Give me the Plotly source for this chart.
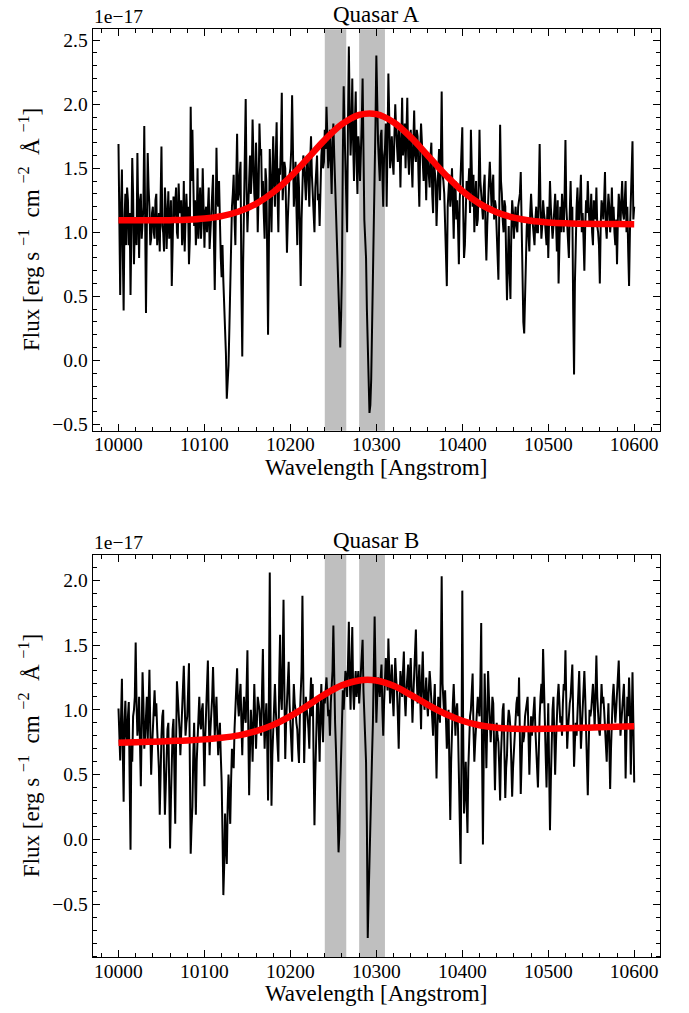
import plotly.graph_objects as go

# ---------------- data ----------------
# Spectra are sampled every 1 Angstrom; values are stored as two lists
# (even and odd wavelengths) to keep the rows readable.
wave = list(range(10000, 10601))             # spectral grid [Angstrom]
fit_wave = list(range(10000, 10601, 20))     # grid of the fitted model

flux_A_even = [   # 10000, 10002, ..., 10600
    1.69, 0.51, 1.49, 0.39, 1.30, 1.35, 0.90, 0.51, 1.58, 0.75,
    1.10, 1.62, 0.80, 1.30, 1.05, 1.83, 0.37, 1.62, 1.20, 0.95,
    1.20, 0.95, 1.30, 1.05, 0.85, 1.67, 1.00, 1.35, 0.87, 1.32,
    1.05, 0.58, 1.28, 1.30, 1.00, 1.38, 1.20, 0.90, 1.40, 1.10,
    1.10, 0.75, 1.98, 1.80, 1.05, 0.90, 1.50, 1.30, 0.95, 1.50,
    0.88, 1.20, 1.30, 0.87, 1.15, 1.45, 0.55, 1.66, 1.20, 0.95,
    0.65, 0.62, 0.30, -0.30, -0.04, 0.62, 1.20, 1.45, 0.90, 1.77,
    1.30, 1.55, 0.03, 1.20, 2.04, 1.00, 1.50, 1.30, 1.88, 1.30,
    1.70, 1.00, 1.85, 1.65, 1.40, 0.95, 1.40, 0.20, 1.65, 1.00,
    1.75, 1.20, 1.86, 1.00, 1.45, 2.09, 1.40, 1.50, 0.84, 1.30,
    1.50, 2.07, 1.20, 1.55, 0.90, 1.35, 0.58, 1.40, 1.55, 1.25,
    1.60, 1.20, 1.75, 1.30, 1.00, 1.45, 1.25, 1.05, 1.60, 1.50,
    1.80, 1.98, 1.50, 1.80, 1.30, 1.85, 1.40, 0.90, 0.55, 0.10,
    0.70, 2.14, 1.50, 1.00, 2.45, 1.60, 2.20, 1.40, 2.10, 1.30,
    1.65, 1.60, 2.20, 1.10, 0.80, 0.05, -0.41, -0.15, 0.60, 1.50,
    2.38, 1.70, 1.40, 1.80, 1.20, 1.65, 1.20, 2.24, 1.50, 1.75,
    1.45, 2.00, 1.60, 1.85, 1.35, 2.05, 1.70, 1.50, 2.05, 1.45,
    1.80, 1.35, 1.95, 1.55, 1.75, 1.20, 1.85, 1.50, 1.65, 1.25,
    1.55, 1.35, 1.70, 1.15, 1.45, 1.05, 1.50, 1.25, 2.10, 1.40,
    1.10, 0.58, 1.35, 1.20, 1.50, 0.95, 1.40, 1.25, 0.75, 1.45,
    1.82, 0.80, 1.25, 1.30, 1.50, 1.80, 1.20, 1.00, 1.40, 1.10,
    1.80, 1.30, 1.10, 1.45, 0.78, 1.30, 1.55, 1.20, 1.45, 1.25,
    1.00, 0.63, 1.84, 1.30, 1.00, 1.20, 0.47, 1.05, 0.48, 1.25,
    0.95, 1.20, 1.00, 1.25, 1.47, 0.50, 0.21, 0.90, 1.10, 0.85,
    1.30, 1.05, 0.90, 1.20, 1.00, 1.69, 0.95, 1.25, 1.10, 0.90,
    0.80, 1.40, 1.00, 1.05, 1.30, 0.85, 0.60, 1.20, 1.30, 1.00,
    1.72, 1.05, 0.80, 1.40, 1.20, -0.11, 1.00, 1.35, 1.10, 1.45,
    1.15, 0.70, 1.25, 1.40, 1.05, 1.30, 0.90, 1.20, 1.35, 1.00,
    0.60, 1.25, 1.10, 1.47, 0.95, 1.30, 1.00, 1.35, 1.20, 0.90,
    0.75, 1.30, 1.05, 1.40, 1.10, 1.40, 1.20, 0.58, 1.25, 1.71,
    1.20,
]
flux_A_odd = [    # 10001, 10003, ..., 10599
    0.95, 1.20, 0.85, 1.10, 0.90, 1.25, 1.15, 1.00, 1.30, 1.05,
    0.90, 1.15, 1.25, 0.95, 1.20, 0.85, 1.05, 1.35, 0.90, 1.15,
    1.00, 1.25, 0.90, 1.15, 1.30, 1.05, 0.85, 1.20, 1.10, 0.95,
    1.25, 0.90, 1.10, 1.35, 0.95, 1.15, 1.25, 1.00, 0.85, 1.30,
    1.20, 0.95, 1.40, 1.15, 1.25, 1.05, 0.95, 1.35, 1.10, 1.20,
    1.15, 1.00, 1.35, 1.10, 1.30, 0.95, 1.05, 1.25, 1.40, 0.80,
    0.90, 0.45, 0.05, -0.20, 0.25, 1.00, 1.30, 1.10, 1.40, 1.25,
    1.45, 0.60, 0.75, 1.55, 1.35, 1.20, 1.60, 1.45, 1.55, 1.20,
    1.45, 1.30, 1.60, 1.25, 1.15, 1.50, 0.85, 0.90, 1.35, 1.45,
    1.40, 1.60, 1.30, 1.50, 1.70, 1.25, 1.55, 1.20, 1.10, 1.45,
    1.65, 1.40, 1.35, 1.20, 1.50, 1.00, 1.10, 1.60, 1.35, 1.50,
    1.40, 1.55, 1.45, 1.20, 1.35, 1.60, 1.30, 1.45, 1.70, 1.55,
    1.65, 1.75, 1.60, 1.55, 1.70, 1.60, 1.20, 0.75, 0.30, 0.35,
    1.60, 1.80, 1.35, 1.85, 1.95, 1.80, 1.70, 1.85, 1.55, 1.75,
    1.40, 1.85, 1.60, 0.95, 0.40, -0.25, -0.35, 0.25, 1.10, 1.85,
    1.90, 1.55, 1.75, 1.45, 1.60, 1.85, 1.70, 1.90, 1.60, 1.55,
    1.75, 1.80, 1.55, 1.70, 1.90, 1.60, 1.85, 1.75, 1.60, 1.70,
    1.55, 1.70, 1.60, 1.80, 1.45, 1.65, 1.70, 1.40, 1.55, 1.60,
    1.45, 1.60, 1.30, 1.55, 1.40, 1.35, 1.65, 1.55, 1.45, 1.30,
    0.90, 1.20, 1.45, 1.30, 1.15, 1.35, 1.10, 1.05, 1.25, 1.50,
    1.20, 0.90, 1.40, 1.35, 1.15, 1.30, 1.45, 1.25, 1.05, 1.35,
    1.40, 1.20, 1.35, 1.00, 1.05, 1.40, 1.30, 1.35, 1.10, 1.20,
    0.85, 1.15, 1.40, 1.10, 1.25, 0.80, 0.75, 0.70, 1.00, 1.15,
    1.10, 1.05, 1.20, 1.30, 1.00, 0.30, 0.60, 1.05, 0.95, 1.15,
    1.15, 0.95, 1.10, 1.00, 1.30, 1.20, 1.05, 1.15, 1.00, 1.20,
    1.10, 1.20, 0.95, 1.15, 1.10, 1.25, 0.90, 1.00, 1.15, 1.30,
    1.20, 1.00, 1.15, 1.05, 0.40, 0.60, 1.20, 1.10, 1.25, 1.00,
    0.95, 1.05, 1.15, 1.20, 1.10, 1.00, 1.25, 1.10, 1.05, 0.90,
    1.05, 1.20, 1.25, 1.05, 1.15, 1.20, 1.10, 1.05, 1.00, 1.10,
    1.10, 1.20, 1.25, 1.15, 1.25, 1.00, 0.85, 1.00, 1.45, 1.10,
]

flux_B_even = [   # 10000, 10002, ..., 10600
    1.01, 0.61, 1.24, 0.29, 1.07, 0.75, 1.06, -0.08, 0.60, 1.00,
    1.52, 0.80, 1.10, 0.41, 1.29, 0.70, 1.00, 0.75, 1.31, 0.50,
    0.90, 1.15, 1.05, 0.70, 0.19, 0.80, 1.00, 0.19, 0.70, 0.90,
    -0.07, 0.60, 0.93, 0.12, 1.22, 1.00, 0.65, 0.95, 1.34, 0.80,
    0.95, 1.36, -0.11, 0.25, 0.90, 0.19, 0.80, 1.10, 0.85, 1.05,
    0.41, 1.05, 1.38, 0.65, 0.95, 1.33, 0.80, 1.10, 0.65, 0.90,
    0.45, -0.43, 0.20, -0.19, 0.50, 0.12, 0.70, 0.55, 1.00, 1.32,
    0.95, 1.20, 0.65, 1.10, 0.90, 1.46, 0.34, 1.00, 0.60, 1.20,
    0.70, 1.10, 1.00, 0.80, 1.47, 0.70, 1.05, 0.30, 2.06, 0.26,
    0.90, 1.20, 0.85, 0.60, 1.58, 1.00, 1.85, 0.62, 1.10, 1.37,
    0.90, 0.60, 1.20, 1.00, 0.85, 0.59, 1.10, 1.88, 0.59, 1.10,
    0.95, 0.70, 1.25, 1.20, 0.11, 0.90, 1.10, 0.60, 1.20, 0.75,
    1.05, 1.25, 0.95, 0.80, 1.15, 1.65, 0.90, 0.50, -0.10, 0.40,
    0.90, 1.00, 1.30, 1.10, 1.68, 1.00, 1.64, 1.00, 1.30, 1.20,
    1.05, 1.35, 1.54, 0.90, 0.60, -0.76, -0.10, 0.40, 0.90, 1.72,
    0.90, 1.25, 1.10, 1.35, 0.80, 1.20, 1.30, 1.55, 1.05, 1.35,
    0.95, 1.40, 1.15, 0.70, 1.30, 1.10, 1.45, 0.95, 1.25, 1.10,
    1.40, 0.90, 1.30, 1.62, 1.05, 1.35, 0.85, 1.45, 1.00, 1.25,
    0.95, 1.30, 1.05, 0.80, 1.20, 0.47, 1.10, 0.90, 2.03, 1.00,
    1.15, 0.70, 1.00, 0.15, 0.90, 1.20, 0.80, 1.05, 0.50, -0.19,
    1.92, 0.20, 0.60, 0.05, 0.80, 1.00, 1.28, 0.60, 0.90, 1.10,
    0.95, 1.67, -0.04, 1.28, 0.55, 1.30, 0.85, 0.90, 1.05, 0.38,
    0.90, 0.75, 0.30, 0.90, 1.05, 0.32, 0.65, 1.00, 0.85, 0.33,
    0.70, 0.90, 1.10, 1.25, 0.35, 0.85, 0.80, 1.00, 1.10, 0.50,
    0.95, 0.90, 1.10, 0.60, 0.40, 0.95, 1.20, 1.47, 0.80, 0.40,
    1.05, 0.07, 0.90, 1.10, 0.50, 1.00, 1.20, 0.90, 0.80, 1.20,
    1.46, 0.70, 1.00, 1.10, 1.35, 0.56, 0.90, 1.00, 1.30, 0.70,
    1.05, 1.30, 0.90, 0.34, 1.00, 1.00, 1.20, 0.85, 1.42, 0.95,
    0.80, 1.20, 1.10, 0.85, 0.60, 1.05, 0.39, 1.00, 1.20, 0.90,
    1.10, 1.38, 0.80, 1.00, 1.20, 0.47, 1.10, 1.25, 0.50, 1.29,
    0.44,
]
flux_B_odd = [    # 10001, 10003, ..., 10599
    0.85, 0.95, 0.70, 0.90, 0.80, 0.95, 0.45, 0.75, 0.95, 1.10,
    1.05, 0.90, 0.75, 0.85, 1.05, 0.80, 1.10, 0.95, 0.85, 0.70,
    1.00, 0.95, 0.85, 0.55, 0.60, 0.95, 0.55, 0.40, 0.85, 0.40,
    0.30, 0.85, 0.55, 0.75, 1.10, 0.85, 0.80, 1.15, 1.05, 0.90,
    1.15, 0.60, 0.10, 0.65, 0.55, 0.60, 0.95, 0.90, 1.00, 0.75,
    0.80, 1.15, 0.95, 0.85, 1.10, 1.05, 0.95, 0.85, 0.80, 0.65,
    0.05, -0.20, -0.05, 0.25, 0.30, 0.45, 0.60, 0.85, 1.15, 1.05,
    1.10, 0.90, 0.95, 0.95, 1.15, 0.85, 0.70, 0.85, 0.90, 0.95,
    0.90, 1.05, 0.85, 1.15, 1.00, 0.90, 0.75, 1.10, 0.95, 0.65,
    1.05, 1.00, 0.75, 1.25, 1.10, 1.35, 1.15, 0.90, 1.20, 1.05,
    0.80, 0.95, 1.05, 0.90, 0.70, 0.95, 1.30, 1.00, 0.85, 1.00,
    0.85, 1.05, 0.95, 0.60, 0.50, 1.05, 0.85, 1.00, 0.90, 1.10,
    1.15, 1.10, 1.00, 1.05, 1.30, 1.20, 0.70, 0.20, 0.05, 0.70,
    1.15, 1.20, 1.25, 1.35, 1.25, 1.35, 1.15, 1.20, 1.10, 1.30,
    1.20, 1.45, 1.15, 0.75, 0.10, -0.45, 0.15, 0.65, 1.25, 1.30,
    1.10, 1.20, 1.25, 1.00, 1.05, 1.40, 1.15, 1.25, 1.20, 1.10,
    1.20, 1.25, 0.95, 1.05, 1.20, 1.30, 1.10, 1.15, 1.35, 1.25,
    1.15, 1.10, 1.45, 1.25, 1.20, 1.10, 1.25, 1.15, 1.10, 1.05,
    1.15, 1.20, 0.95, 1.05, 0.80, 0.85, 1.00, 1.35, 1.20, 0.95,
    0.90, 0.85, 0.55, 0.60, 1.05, 0.95, 1.00, 0.85, 0.25, 0.60,
    0.85, 0.35, 0.30, 0.55, 0.95, 1.10, 0.85, 0.75, 1.05, 1.00,
    1.20, 0.65, 0.70, 0.95, 0.90, 1.10, 0.75, 1.10, 0.65, 0.70,
    0.80, 0.55, 0.65, 1.00, 0.70, 0.55, 0.90, 0.95, 0.60, 0.55,
    0.85, 1.05, 0.95, 0.80, 0.60, 0.75, 0.95, 1.05, 0.80, 0.75,
    0.80, 1.05, 0.85, 0.55, 0.75, 1.10, 1.05, 1.20, 0.65, 0.75,
    0.55, 0.45, 1.00, 0.85, 0.75, 1.10, 1.05, 0.95, 1.05, 1.15,
    1.05, 0.85, 1.05, 1.20, 0.95, 0.75, 0.80, 1.15, 1.00, 0.85,
    1.15, 1.10, 0.65, 0.70, 0.95, 1.10, 1.05, 1.15, 1.10, 0.85,
    0.95, 1.05, 1.00, 0.70, 0.85, 0.75, 0.70, 1.10, 1.05, 1.00,
    1.20, 1.10, 0.90, 1.15, 0.95, 0.80, 0.95, 1.05, 0.85, 0.90,
]

fit_A = [1.095, 1.094, 1.094, 1.095, 1.098, 1.107, 1.126, 1.162, 1.222, 1.313,
         1.433, 1.576, 1.722, 1.844, 1.917, 1.923, 1.860, 1.743, 1.598, 1.451,
         1.323, 1.224, 1.156, 1.114, 1.090, 1.077, 1.070, 1.067, 1.065, 1.064,
         1.063]
fit_B = [0.745, 0.749, 0.754, 0.759, 0.764, 0.772, 0.784, 0.803, 0.835, 0.884,
         0.952, 1.033, 1.119, 1.189, 1.227, 1.226, 1.185, 1.116, 1.039, 0.970,
         0.916, 0.881, 0.862, 0.854, 0.852, 0.854, 0.857, 0.861, 0.865, 0.870,
         0.874]

bands = [(10240, 10265), (10280, 10310)]
titles = ["Quasar A", "Quasar B"]
x_ticks = [10000, 10100, 10200, 10300, 10400, 10500, 10600]
x_range = [9970, 10630]
y_ranges = [[-0.549, 2.585], [-0.91, 2.195]]


def merge(even, odd):
    out = []
    for e, o in zip(even, odd):
        out += [e, o]
    out.append(even[-1])
    return out


flux_A = merge(flux_A_even, flux_A_odd)
flux_B = merge(flux_B_even, flux_B_odd)

# ---------------- layout geometry ----------------
W, H = 689, 1013
xdom = [92.7 / W, 660 / W]
ydoms = [[1 - 430.7 / H, 1 - 29.3 / H], [1 - 957.3 / H, 1 - 555 / H]]
FONT = "Liberation Serif"
TICK_SIZE = 19.5
LABEL_SIZE = 23

fig = go.Figure()
for i, (flux, fit) in enumerate([(flux_A, fit_A), (flux_B, fit_B)]):
    xa = "x" if i == 0 else "x2"
    ya = "y" if i == 0 else "y2"
    fig.add_trace(go.Scatter(x=wave, y=flux, mode="lines", xaxis=xa, yaxis=ya,
                             line=dict(color="black", width=2.0), showlegend=False,
                             hoverinfo="skip"))
    fig.add_trace(go.Scatter(x=fit_wave, y=fit, mode="lines", xaxis=xa, yaxis=ya,
                             line=dict(color="#ff0000", width=6.5, shape="spline"),
                             showlegend=False, hoverinfo="skip"))
    for (b0, b1) in bands:
        fig.add_shape(type="rect", xref=xa, yref=f"{ya} domain", x0=b0, x1=b1,
                      y0=0, y1=1, fillcolor="#bfbfbf", line=dict(width=0),
                      layer="below")

axis_common = dict(showline=True, linecolor="black", linewidth=1.3, mirror="allticks",
                   ticks="inside", ticklen=7, tickwidth=1.2, tickcolor="black",
                   showgrid=False, zeroline=False, automargin=False,
                   tickfont=dict(family=FONT, size=TICK_SIZE, color="black"))

for i in range(2):
    sx = "" if i == 0 else "2"
    fig.layout[f"xaxis{sx}"] = dict(
        axis_common, domain=xdom, range=x_range, anchor=f"y{sx}",
        tickvals=x_ticks, tickformat="d", ticklabelstandoff=-4,
        minor=dict(dtick=20, ticks="inside", ticklen=4, tickwidth=1.0, tickcolor="black"))
    fig.layout[f"yaxis{sx}"] = dict(
        axis_common, domain=ydoms[i], range=y_ranges[i], anchor=f"x{sx}",
        dtick=0.5, tick0=0, tickformat=".1f",
        minor=dict(dtick=0.1, ticks="inside", ticklen=4, tickwidth=1.0, tickcolor="black"))

annotations = []
xc = (xdom[0] + xdom[1]) / 2
xlabel_y = [1 - 467 / H, 1 - 993.6 / H]
for i in range(2):
    top = ydoms[i][1]
    annotations.append(dict(text=titles[i], xref="paper", yref="paper", x=xc, y=top,
                            xanchor="center", yanchor="bottom", yshift=0, showarrow=False,
                            font=dict(family=FONT, size=LABEL_SIZE, color="black")))
    annotations.append(dict(text="1e\u221217", xref="paper", yref="paper", x=xdom[0], y=top,
                            xanchor="left", yanchor="bottom", yshift=0, xshift=-1,
                            showarrow=False,
                            font=dict(family=FONT, size=TICK_SIZE, color="black")))
    annotations.append(dict(text="Wavelength [Angstrom]", xref="paper", yref="paper",
                            x=xc, y=xlabel_y[i], xanchor="center", yanchor="middle",
                            showarrow=False,
                            font=dict(family=FONT, size=LABEL_SIZE, color="black")))
    annotations.append(dict(text="Flux [erg s <sup>\u22121</sup>  cm <sup>\u22122</sup>  \u00c5 <sup>\u22121</sup>]",
                            xref="paper", yref="paper", x=29 / W,
                            y=(ydoms[i][0] + ydoms[i][1]) / 2, textangle=-90,
                            xanchor="center", yanchor="middle", showarrow=False,
                            font=dict(family=FONT, size=LABEL_SIZE, color="black")))

fig.update_layout(width=W, height=H, margin=dict(l=0, r=0, t=0, b=0, autoexpand=False),
                  paper_bgcolor="white", plot_bgcolor="white",
                  annotations=annotations, showlegend=False)

fig.write_html("out.html", config={"displayModeBar": False},
               post_script="document.body.style.margin='0px';")
